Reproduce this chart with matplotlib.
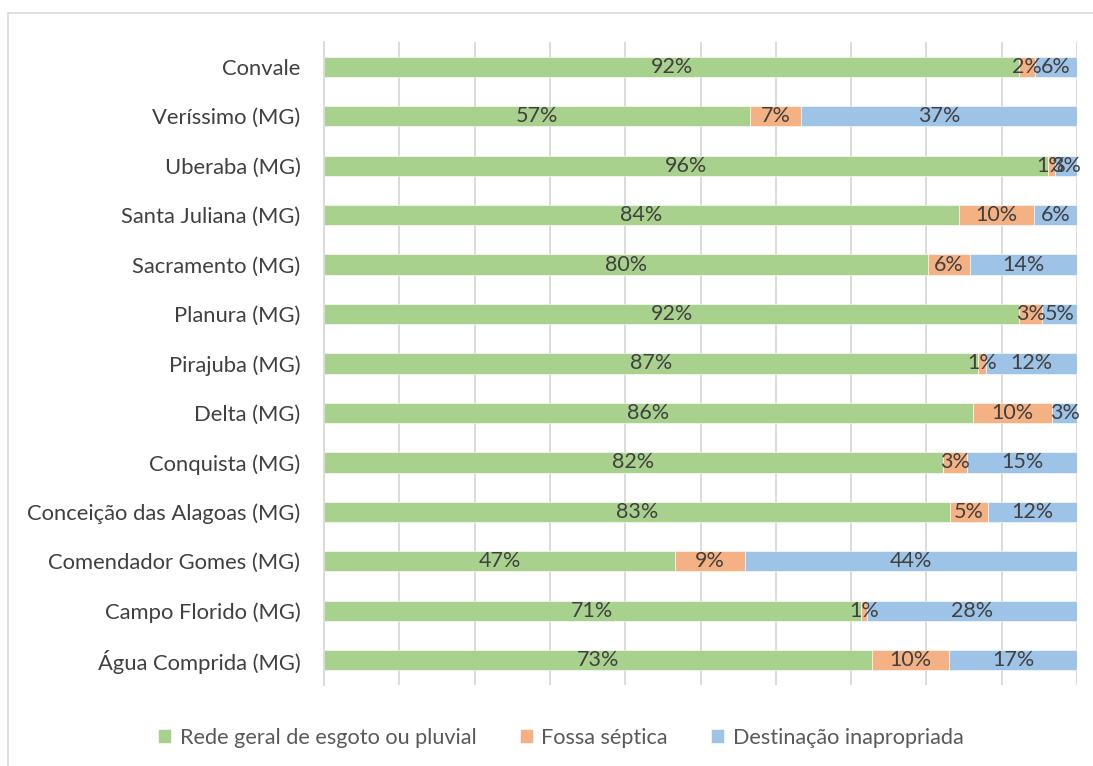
import numpy as np
import matplotlib.pyplot as plt
from matplotlib.patches import Rectangle

plt.rcParams['font.family'] = ['Lato', 'DejaVu Sans']

# data, bottom row first
cities = ['Água Comprida (MG)', 'Campo Florido (MG)', 'Comendador Gomes (MG)',
          'Conceição das Alagoas (MG)', 'Conquista (MG)', 'Delta (MG)',
          'Pirajuba (MG)', 'Planura (MG)', 'Sacramento (MG)',
          'Santa Juliana (MG)', 'Uberaba (MG)', 'Veríssimo (MG)', 'Convale']
rede = [72.8, 71.3, 46.6, 83.1, 82.2, 86.2, 86.9, 92.3, 80.2, 84.3, 96.1, 56.6, 92.3]
fossa = [10.2, 0.8, 9.3, 5.1, 3.2, 10.5, 1.0, 3.1, 5.6, 10.0, 1.0, 6.8, 2.1]
inapropriada = [17.0, 27.9, 44.1, 11.8, 14.6, 3.3, 12.1, 4.6, 14.2, 5.7, 2.9, 36.6, 5.6]
series_names = ['Rede geral de esgoto ou pluvial', 'Fossa séptica', 'Destinação inapropriada']
colors = ['#A9D18E', '#F4B183', '#9DC3E6']

fig = plt.figure(figsize=(10.93, 7.66), dpi=100)
ax = fig.add_axes([324 / 1093, 1 - 685 / 766, (1077 - 324) / 1093, (685 - 42) / 766])

# outer frame like the spreadsheet chart area
fig.patches.append(Rectangle((8 / 1093, -0.1), 1.2, 1 - 13 / 766 + 0.1,
                             transform=fig.transFigure, fill=False,
                             edgecolor='#D9D9D9', linewidth=1.2))

y = np.arange(len(cities))
left = np.zeros(len(cities))
for vals, name, c in zip([rede, fossa, inapropriada], series_names, colors):
    vals = np.array(vals)
    ax.barh(y, vals, left=left, height=0.41, color=c, label=name,
            edgecolor='white', linewidth=0.4, zorder=2)
    for yi, l, v in zip(y, left, vals):
        ax.text(l + v / 2, yi, '{:.0f}%'.format(v), ha='center', va='center',
                fontsize=15.5, color='#404040', zorder=3)
    left += vals

ax.set_xlim(0, 100)
ax.set_ylim(-0.5, len(cities) - 0.5)
ax.set_xticks(np.arange(0, 101, 10))
ax.set_xticklabels([])
ax.grid(axis='x', color='#D9D9D9', linewidth=1.3, zorder=0)
ax.set_yticks(y)
ax.set_yticklabels(cities, fontsize=15.8, color='#404040')
ax.tick_params(axis='y', length=0, pad=17)
ax.tick_params(axis='x', length=0)
for s in ['top', 'right', 'bottom']:
    ax.spines[s].set_visible(False)
ax.spines['left'].set_color('#D9D9D9')
ax.spines['left'].set_linewidth(1.3)

leg = fig.legend(loc='center', bbox_to_anchor=(0.513, 1 - 738 / 766), ncol=3,
                 frameon=False, fontsize=15.6, handlelength=0.6, handleheight=0.6,
                 handletextpad=0.4, columnspacing=2.0)
for t in leg.get_texts():
    t.set_color('#595959')

fig.savefig('out.png', dpi=100)
